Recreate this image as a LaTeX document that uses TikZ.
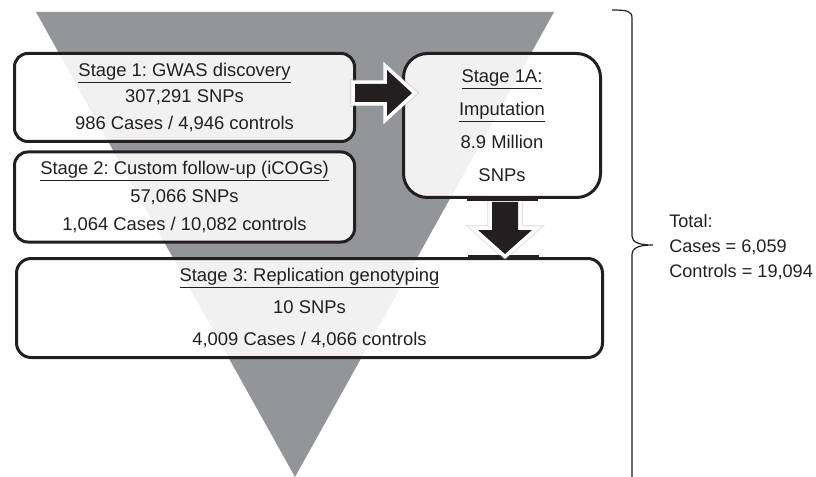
\documentclass[tikz,border=0pt]{standalone}
\usepackage{fontspec}
\setmainfont{Liberation Sans}
\usetikzlibrary{calc}
\definecolor{ink}{HTML}{231F20}
\definecolor{funnel}{HTML}{939598}
\frenchspacing
\begin{document}
\begin{tikzpicture}[x=0.75pt,y=-0.75pt,
  stagebox/.style={draw=ink, line width=2.25pt, fill=white, fill opacity=0.87,
    text opacity=1, text=ink, inner sep=0pt, align=center},
  arrowglow/.style={draw=black!40, line width=7.5pt, line join=miter, opacity=0.25},
  arrowrim/.style={draw=white, line width=5.5pt, line join=miter},
  arrowbody/.style={fill=ink},
  edgebar/.style={draw=ink, line width=3.6pt},
  bracestyle/.style={draw=ink, line width=0.9pt},
  boxfont/.style={font=\fontsize{13.8}{#1}\selectfont}
]
\useasboundingbox (0,0) rectangle (816,477);
% funnel
\fill[funnel] (36,12) -- (554,12) -- (295,477) -- cycle;

% boxes
\node[stagebox, boxfont=19.9, minimum width=255pt, minimum height=66pt,
      rounded corners=10pt] (box1) at (184.5,97.5)
  {\underline{Stage 1: GWAS discovery}\\307,291 SNPs\\986 Cases / 4,946 controls};
\node[stagebox, boxfont=21, minimum width=255pt, minimum height=67.5pt,
      rounded corners=10pt] (box2) at (184.5,197)
  {\underline{Stage 2: Custom follow-up (iCOGs)}\\57,066 SNPs\\1,064 Cases / 10,082 controls};
\node[stagebox, boxfont=24.75, minimum width=147.75pt, minimum height=108pt,
      rounded corners=18pt] (box1A) at (502,125.5)
  {\underline{Stage 1A:}\\\underline{Imputation}\\8.9 Million\\SNPs};
\node[stagebox, boxfont=24, minimum width=439.5pt, minimum height=74.25pt,
      rounded corners=11pt] (box3) at (309.5,308)
  {\underline{Stage 3: Replication genotyping}\\10 SNPs\\4,009 Cases / 4,066 controls};

% thick bar where the down arrow meets box3
\draw[edgebar] ($(box3.north)+(158,0)$) -- ($(box3.north)+(229,0)$);

% right block arrow: box1 -> box1A
\coordinate (rarrow) at ($(box1.east)+(-1,-4.5)$);
\begin{scope}[shift={(rarrow)}]
  \draw[arrowglow] (0,-9) -- (32,-9) -- (32,-23) -- (57,0) -- (32,23) -- (32,9) -- (0,9) -- cycle;
  \draw[arrowrim] (0,-9) -- (32,-9) -- (32,-23) -- (57,0) -- (32,23) -- (32,9) -- (0,9) -- cycle;
  \fill[arrowbody] (0,-9) -- (32,-9) -- (32,-23) -- (57,0) -- (32,23) -- (32,9) -- (0,9) -- cycle;
\end{scope}

% down block arrow: box1A -> box3
\coordinate (darrow) at ($(box1A.south)+(3,0)$);
\begin{scope}[shift={(darrow)}]
  \draw[arrowglow] (-13,3) -- (13,3) -- (13,31) -- (27,31) -- (0,55) -- (-27,31) -- (-13,31) -- cycle;
  \draw[arrowrim] (-13,3) -- (13,3) -- (13,31) -- (27,31) -- (0,55) -- (-27,31) -- (-13,31) -- cycle;
  \fill[arrowbody] (-13,3) -- (13,3) -- (13,31) -- (27,31) -- (0,55) -- (-27,31) -- (-13,31) -- cycle;
\end{scope}
\draw[edgebar] ($(box1A.south)+(-35,0)$) -- ($(box1A.south)+(36,0)$);

% brace
\coordinate (bracetop) at (612,10);
\coordinate (bracetip) at (653,245);
\draw[bracestyle] (bracetop) .. controls (627,10) and (632,11) .. (632,18)
  -- (632,236) .. controls (632,242) and (638,245) .. (bracetip)
  .. controls (638,245) and (632,248) .. (632,255) -- (632,480);

% totals
\node[anchor=west, align=left, text=ink, inner sep=0pt,
      font=\fontsize{13.6}{18.75}\selectfont] (total) at (669,247)
  {Total:\\Cases = 6,059\\Controls = 19,094};
\end{tikzpicture}
\end{document}
